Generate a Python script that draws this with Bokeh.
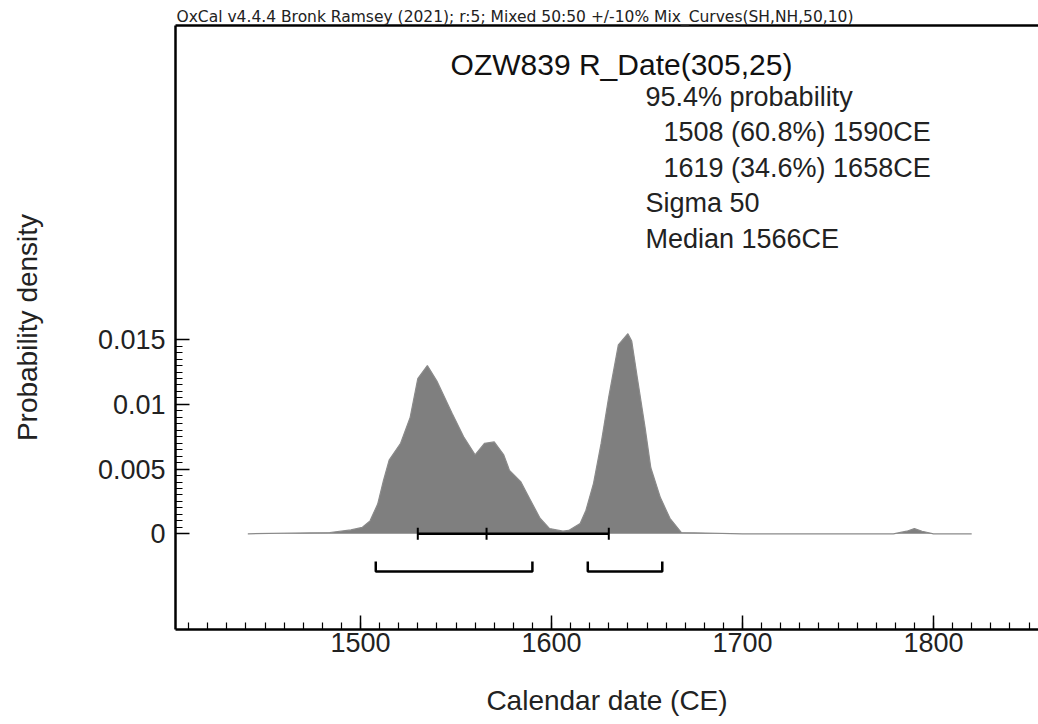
import numpy as np
from bokeh.plotting import figure
from bokeh.models import Range1d, FixedTicker, Label, LinearAxis
from bokeh.embed import file_html
from bokeh.resources import INLINE

# ---------------- data ----------------
years = [1441, 1484, 1495, 1501, 1505, 1509, 1512, 1515, 1521, 1526, 1530, 1535,
         1540, 1548, 1554, 1560, 1565, 1570, 1575, 1578, 1584, 1589, 1594, 1599,
         1606, 1609, 1615, 1618, 1622, 1626, 1630, 1635, 1640, 1642, 1645, 1649,
         1652, 1657, 1662, 1668, 1700, 1750, 1779, 1786, 1790, 1794, 1800, 1820]
density = [0.0, 0.0001, 0.0003, 0.0005, 0.001, 0.0023, 0.0041, 0.0057, 0.0070,
           0.0090, 0.0120, 0.0130, 0.0118, 0.0093, 0.0075, 0.0061, 0.0070, 0.0071,
           0.0061, 0.0049, 0.0040, 0.0026, 0.0012, 0.0004, 0.0002, 0.00026, 0.0008,
           0.0018, 0.0039, 0.0070, 0.0106, 0.0146, 0.01546, 0.0149, 0.0120, 0.0082,
           0.0051, 0.0028, 0.0012, 0.0001, 0.0, 0.0, 0.0, 0.0002, 0.0004, 0.0002,
           0.0, 0.0]
sigma_range = [1530, 1630]
median = 1566
ranges_954 = [(1508, 1590), (1619, 1658)]

header = "OxCal v4.4.4 Bronk Ramsey (2021); r:5; Mixed 50:50 +/-10% Mix_Curves(SH,NH,50,10)"
title_text = "OZW839 R_Date(305,25)"
info_lines = ["95.4% probability", "1508 (60.8%) 1590CE", "1619 (34.6%) 1658CE",
              "Sigma 50", "Median 1566CE"]
info_indent = [0, 1, 1, 0, 0]
x_ticks = [1500, 1600, 1700, 1800]
x_minor = list(range(1410, 1860, 10))
y_ticks = [0, 0.005, 0.01, 0.015]
y_tick_labels = ["0", "0.005", "0.01", "0.015"]
y_minor = [i * 0.0005 for i in range(31)]

# ---------------- layout ----------------
W, H = 1038, 724
ML, MT, MB = 175, 25, 95
FW = W - ML
FH = H - MT - MB
PX_YR = 1.91
PX_UNIT = 12940.0
x0 = 1500 - 185 / PX_YR
x1 = x0 + FW / PX_YR
y0 = -95.7 / PX_UNIT
y1 = y0 + FH / PX_UNIT

FONT = "Liberation Sans"

p = figure(width=W, height=H, output_backend="svg", toolbar_location=None,
           x_range=Range1d(x0, x1), y_range=Range1d(y0, y1),
           min_border_left=ML, min_border_top=MT, min_border_bottom=MB,
           min_border_right=0)
p.outline_line_color = None
p.grid.visible = False
p.background_fill_color = "white"
p.border_fill_color = "white"

# header as title (outside the frame)
p.title.text = header
p.title.text_font = "DejaVu Sans"
p.title.text_font_size = "15.5px"
p.title.text_font_style = "normal"
p.title.text_color = "#222222"
p.title.align = "left"
p.title.standoff = 0
p.title.offset = 1

# distribution
p.varea(x=years, y1=[0] * len(years), y2=density, fill_color="#7f7f7f")
p.line(years, density, line_color="#8a8a8a", line_width=1.2)

# sigma bar and median
p.line(sigma_range, [0, 0], line_color="black", line_width=2.5)
p.scatter(x=[sigma_range[0], median, sigma_range[1]], y=[0, 0, 0], marker="dash",
          angle=np.pi / 2, size=12, line_color="black", line_width=2)

# 95.4% range brackets
lvl = -37.7 / PX_UNIT
top = lvl + 10 / PX_UNIT
xs = [[a, a, b, b] for a, b in ranges_954]
ys = [[top, lvl, lvl, top] for _ in ranges_954]
p.multi_line(xs, ys, line_color="black", line_width=2.5)

# axes
for ax in (p.xaxis, p.yaxis):
    ax.axis_line_width = 2.5
    ax.axis_line_color = "black"
    ax.major_tick_in = 14
    ax.major_tick_out = 0
    ax.minor_tick_in = 7
    ax.minor_tick_out = 0
    ax.major_tick_line_width = 1.5
    ax.minor_tick_line_width = 1.2
    ax.major_tick_line_color = "black"
    ax.minor_tick_line_color = "black"
    ax.major_label_text_font = FONT
    ax.major_label_text_font_size = "27px"
    ax.major_label_text_color = "#222222"
    ax.axis_label_text_font = FONT
    ax.axis_label_text_font_size = "28px"
    ax.axis_label_text_font_style = "normal"
    ax.axis_label_text_color = "#222222"

p.xaxis.ticker = FixedTicker(ticks=x_ticks, minor_ticks=x_minor)
p.yaxis.ticker = FixedTicker(ticks=y_ticks, minor_ticks=y_minor)
p.yaxis.major_label_overrides = {t: s for t, s in zip(y_ticks, y_tick_labels)}
p.xaxis.axis_label = "Calendar date (CE)"
p.yaxis.axis_label = "Probability density"
p.xaxis.major_label_standoff = 3
p.yaxis.major_label_standoff = 10
p.xaxis.axis_label_standoff = 30
p.yaxis.axis_label_standoff = 52

top_axis = LinearAxis(ticker=FixedTicker(ticks=[]), major_label_text_font_size="0px",
                      major_label_standoff=0, major_tick_out=0, minor_tick_out=0,
                      axis_line_width=2.5, axis_line_color="black",
                      major_tick_line_color=None, minor_tick_line_color=None)
p.add_layout(top_axis, "above")

# texts inside the frame
p.add_layout(Label(x=446, y=FH - 39, x_units="screen", y_units="screen", text=title_text,
                   text_font=FONT, text_font_size="30px", text_color="#111111",
                   text_align="center", text_baseline="alphabetic"))
for i, (t, ind) in enumerate(zip(info_lines, info_indent)):
    p.add_layout(Label(x=470 + 18 * ind, y=FH - 71 - 35.6 * i, x_units="screen",
                       y_units="screen", text=t, text_font=FONT, text_font_size="27px",
                       text_color="#222222", text_baseline="alphabetic"))

open("out.html", "w").write(file_html(p, INLINE))
